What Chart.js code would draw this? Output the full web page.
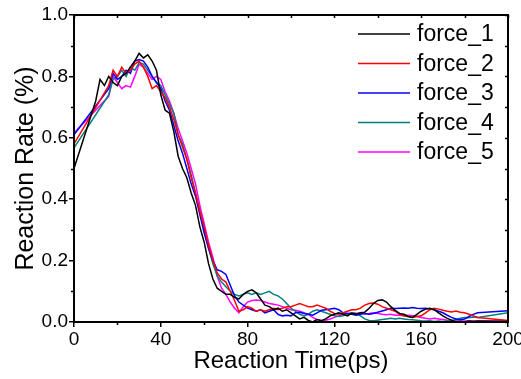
<!DOCTYPE html>
<html>
<head>
<meta charset="utf-8">
<script src="https://cdn.jsdelivr.net/npm/chart.js@4/dist/chart.umd.min.js"></script>
<style>
  html, body { margin: 0; padding: 0; background: #fff; }
  #wrap { width: 521px; height: 379px; }
</style>
</head>
<body>
<div id="wrap"><canvas id="chart" width="521" height="379"></canvas></div>
<script>
// --- dados ---
const time = [0,
  10, 12, 14, 16, 18, 20, 22, 24, 26, 28,
  30, 32, 34, 36, 38, 40, 42, 44, 46, 48,
  50, 52, 54, 56, 58, 60, 62, 64, 66, 68,
  70, 72, 74, 76, 78, 80, 82, 84, 86, 88,
  90, 92, 94, 96, 98, 100, 102, 104, 106, 108,
  110, 112, 114, 116, 118, 120, 122, 124, 126, 128,
  130, 132, 134, 136, 138, 140, 142, 144, 146, 148,
  150, 152, 154, 156, 158, 160, 162, 164, 166, 168,
  170, 172, 174, 176, 178, 180, 182, 184, 186,
  200];

const force1 = [0.50,
  0.72, 0.79, 0.77, 0.80, 0.78, 0.77, 0.80, 0.81, 0.83, 0.85,
  0.875, 0.86, 0.87, 0.85, 0.82, 0.74, 0.69, 0.68, 0.62, 0.54,
  0.50, 0.47, 0.42, 0.38, 0.31, 0.26, 0.19, 0.14, 0.11, 0.10,
  0.09, 0.09, 0.08, 0.075, 0.09, 0.10, 0.105, 0.095, 0.075, 0.055,
  0.05, 0.04, 0.045, 0.035, 0.04, 0.03, 0.02, 0.01, 0.015, 0.005,
  0.0, 0.008, 0.004, 0.01, 0.02, 0.025, 0.03, 0.025, 0.02, 0.028,
  0.025, 0.03, 0.032, 0.045, 0.06, 0.07, 0.072, 0.065, 0.05, 0.038,
  0.028, 0.025, 0.018, 0.015, 0.025, 0.035, 0.042, 0.045, 0.04, 0.03,
  0.02, 0.012, 0.006, 0.0, 0.002, 0.0, 0.003, 0.002, 0.003,
  0.002];

const force2 = [0.58,
  null, null, null, 0.77, 0.82, 0.80, 0.83, 0.81, 0.82, 0.84,
  0.85, 0.83, 0.80, 0.76, 0.77, 0.75, 0.73, 0.70, 0.66, 0.61,
  0.57, 0.53, 0.47, 0.42, 0.36, 0.31, 0.25, 0.20, 0.16, 0.14,
  0.13, 0.10, 0.07, 0.035, 0.04, 0.05, 0.045, 0.035, 0.04, 0.035,
  0.04, 0.045, 0.04, 0.045, 0.05, 0.05, 0.055, 0.06, 0.055, 0.05,
  0.05, 0.055, 0.05, 0.045, 0.035, 0.028, 0.025, 0.03, 0.035, 0.04,
  0.04, 0.045, 0.055, 0.06, 0.062, 0.058, 0.05, 0.045, 0.04, 0.035,
  0.025, 0.02, 0.018, 0.015, 0.018, 0.02, 0.03, 0.04, 0.045, 0.042,
  0.038, 0.035, 0.033, 0.036, 0.032, 0.03, 0.025, 0.02, 0.015,
  0.005];

const force3 = [0.61,
  null, null, null, 0.76, 0.81, 0.79, 0.80, 0.82, 0.81, 0.85,
  0.855, 0.85, 0.83, 0.80, 0.78, 0.76, 0.72, 0.69, 0.64, 0.59,
  0.55, 0.50, 0.45, 0.41, 0.35, 0.29, 0.24, 0.20, 0.17, 0.165,
  0.155, 0.12, 0.085, 0.065, 0.055, 0.045, 0.04, 0.035, 0.04, 0.03,
  0.035, 0.04, 0.025, 0.02, 0.022, 0.02, 0.03, 0.032, 0.028, 0.025,
  0.022, 0.03, 0.038, 0.04, 0.042, 0.045, 0.04, 0.03, 0.028, 0.025,
  0.022, 0.025, 0.028, 0.025, 0.028, 0.032, 0.036, 0.04, 0.045, 0.044,
  0.045, 0.046, 0.045, 0.047, 0.045, 0.044, 0.045, 0.042, 0.04, 0.035,
  0.03, 0.022, 0.015, 0.01, 0.007, 0.01, 0.018, 0.025, 0.03,
  0.037];

const force4 = [0.567,
  null, null, null, 0.74, 0.79, 0.80, 0.82, 0.80, 0.83, 0.82,
  0.845, 0.84, 0.82, 0.80, 0.78, 0.77, 0.74, 0.71, 0.68, 0.61,
  0.58, 0.53, 0.48, 0.42, 0.36, 0.30, 0.24, 0.19, 0.15, 0.13,
  0.115, 0.10, 0.09, 0.085, 0.09, 0.095, 0.09, 0.095, 0.09, 0.095,
  0.10, 0.09, 0.085, 0.075, 0.06, 0.045, 0.035, 0.025, 0.02, 0.025,
  0.035, 0.04, 0.035, 0.03, 0.025, 0.02, 0.018, 0.02, 0.025, 0.03,
  0.028, 0.02, 0.01, 0.005, 0.004, 0.006, 0.008, 0.01, 0.012, 0.01,
  0.012, 0.01, 0.008, 0.007, 0.006, 0.004, 0.003, 0.004, 0.002, 0.003,
  0.002, 0.003, 0.004, 0.008, 0.012, 0.015, 0.014, 0.016, 0.015,
  0.03];

const force5 = [0.615,
  null, null, null, 0.735, 0.80, 0.78, 0.76, 0.77, 0.765, 0.80,
  0.84, 0.83, 0.81, 0.79, 0.80, 0.79, 0.75, 0.72, 0.68, 0.63,
  0.59, 0.55, 0.50, 0.45, 0.38, 0.32, 0.26, 0.21, 0.15, 0.11,
  0.09, 0.065, 0.045, 0.03, 0.05, 0.065, 0.07, 0.072, 0.07, 0.065,
  0.06, 0.058, 0.055, 0.05, 0.045, 0.04, 0.038, 0.035, 0.03, 0.025,
  0.015, 0.008, 0.005, 0.006, 0.01, 0.015, 0.02, 0.025, 0.028, 0.03,
  0.028, 0.03, 0.027, 0.028, 0.03, 0.028, 0.025, 0.024, 0.025, 0.022,
  0.022, 0.02, 0.022, 0.02, 0.018, 0.015, 0.012, 0.01, 0.012, 0.01,
  0.008, 0.006, 0.005, 0.004, 0.003, 0.003, 0.004, 0.003, 0.003,
  0.003];

const seriesNames = ['force_1', 'force_2', 'force_3', 'force_4', 'force_5'];
const seriesValues = [force1, force2, force3, force4, force5];
const seriesColors = ['#000000', '#ff0000', '#0000ff', '#008080', '#ff00ff'];

const xTicks = [0, 40, 80, 120, 160, 200];
const xMinor = [20, 60, 100, 140, 180];
const yTicks = [0, 0.2, 0.4, 0.6, 0.8, 1.0];
const yMinor = [0.1, 0.3, 0.5, 0.7, 0.9];

const FONT = "'Liberation Sans', Arial, sans-serif";

// --- moldura, ticks menores e legenda ---
const framePlugin = {
  id: 'frame',
  afterDraw(chart) {
    const { ctx, chartArea: a, scales: { x, y } } = chart;
    ctx.save();
    ctx.strokeStyle = '#000';
    ctx.lineWidth = 2;
    ctx.strokeRect(a.left, a.top, a.right - a.left, a.bottom - a.top);

    ctx.lineWidth = 1.5;
    ctx.beginPath();
    xMinor.forEach(v => {
      const px = Math.round(x.getPixelForValue(v)) + 0.5;
      ctx.moveTo(px, a.bottom); ctx.lineTo(px, a.bottom + 3);
    });
    yMinor.forEach(v => {
      const py = Math.round(y.getPixelForValue(v)) + 0.5;
      ctx.moveTo(a.left, py); ctx.lineTo(a.left - 3, py);
    });
    // ticks internos no topo e à direita
    xTicks.concat(xMinor).forEach(v => {
      const px = Math.round(x.getPixelForValue(v)) + 0.5;
      ctx.moveTo(px, a.top); ctx.lineTo(px, a.top + 3);
    });
    yTicks.concat(yMinor).forEach(v => {
      const py = Math.round(y.getPixelForValue(v)) + 0.5;
      ctx.moveTo(a.right, py); ctx.lineTo(a.right - 3, py);
    });
    ctx.stroke();

    // legenda
    ctx.font = '23px ' + FONT;
    ctx.textBaseline = 'middle';
    ctx.textAlign = 'left';
    chart.data.datasets.forEach((ds, i) => {
      const ly = 34 + i * 29.5;
      ctx.strokeStyle = ds.borderColor;
      ctx.lineWidth = 1.5;
      ctx.beginPath();
      ctx.moveTo(358, ly); ctx.lineTo(410, ly);
      ctx.stroke();
      ctx.fillStyle = '#000';
      ctx.fillText(ds.label, 417, ly + 1);
    });
    ctx.restore();
  }
};

const datasets = seriesNames.map((name, i) => ({
  label: name,
  data: time.map((t, j) => ({ x: t, y: seriesValues[i][j] })),
  borderColor: seriesColors[i],
  backgroundColor: seriesColors[i],
  borderWidth: 1.5,
  pointRadius: 0,
  tension: 0,
  spanGaps: true
}));

new Chart(document.getElementById('chart'), {
  type: 'line',
  data: { datasets },
  options: {
    responsive: false,
    animation: false,
    layout: { padding: { top: 15, right: 13, left: 0, bottom: 0 } },
    plugins: { legend: { display: false }, tooltip: { enabled: false } },
    scales: {
      x: {
        type: 'linear',
        min: 0, max: 200,
        afterBuildTicks: s => { s.ticks = xTicks.map(v => ({ value: v })); },
        afterFit: s => { s.height = 57; s.paddingLeft = 0; s.paddingRight = 0; },
        grid: { drawOnChartArea: false, drawTicks: true, tickLength: 5, color: '#000', lineWidth: 1.5 },
        border: { display: true, color: '#000', width: 2 },
        ticks: { color: '#000', padding: 1, maxRotation: 0, font: { family: FONT, size: 19 } },
        title: { display: true, text: 'Reaction Time(ps)', color: '#000', padding: { top: 0, bottom: 3 },
                 font: { family: FONT, size: 24 } }
      },
      y: {
        min: 0, max: 1,
        afterBuildTicks: s => { s.ticks = yTicks.map(v => ({ value: v })); },
        afterFit: s => { s.width = 74; s.paddingTop = 0; s.paddingBottom = 0; },
        grid: { drawOnChartArea: false, drawTicks: true, tickLength: 5, color: '#000', lineWidth: 1.5 },
        border: { display: true, color: '#000', width: 2 },
        ticks: { color: '#000', padding: 1, font: { family: FONT, size: 19 },
                 callback: v => v.toFixed(1) },
        title: { display: true, text: 'Reaction Rate (%)', color: '#000', padding: { top: 11, bottom: 0 },
                 font: { family: FONT, size: 25 } }
      }
    }
  },
  plugins: [framePlugin]
});
</script>
</body>
</html>
